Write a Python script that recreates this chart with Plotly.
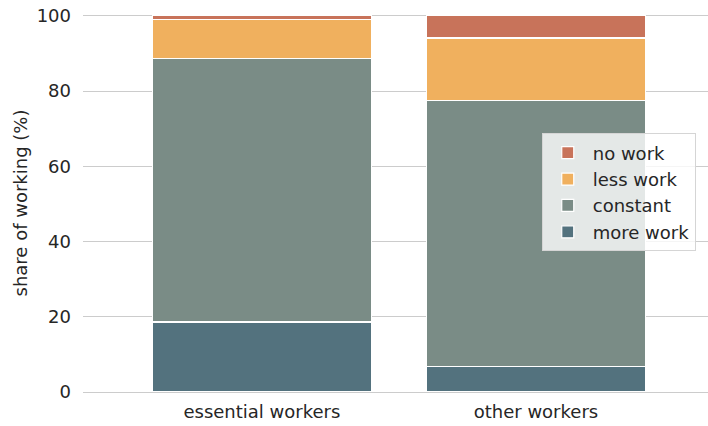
import plotly.graph_objects as go

categories = ["essential workers", "other workers"]
more_work = [18.6, 6.7]
constant = [70.0, 70.7]
less_work = [10.4, 16.7]
no_work = [1.0, 5.9]

series = [
    ("more work", more_work, "#53727e"),
    ("constant", constant, "#7a8c86"),
    ("less work", less_work, "#f0b05e"),
    ("no work", no_work, "#c8735a"),
]

fig = go.Figure()
for name, vals, color in series:
    fig.add_trace(go.Bar(
        x=categories, y=vals, name=name,
        marker=dict(color=color, line=dict(color="white", width=1.2)),
    ))

font_color = "#262626"
fig.update_layout(
    barmode="stack",
    bargap=0.2,
    width=708, height=426,
    margin=dict(l=83, r=0, t=14, b=34, pad=0, autoexpand=False),
    paper_bgcolor="white",
    plot_bgcolor="white",
    font=dict(family="DejaVu Sans", size=18, color=font_color),
    xaxis=dict(
        range=[-0.653, 1.628],
        showgrid=False, showline=False, ticks="",
        ticklabelstandoff=7,
        automargin=False,
        tickfont=dict(size=18, color=font_color),
    ),
    yaxis=dict(
        range=[0, 100.5],
        tickvals=[0, 20, 40, 60, 80, 100],
        showgrid=True, gridcolor="#cccccc", gridwidth=1.3,
        zeroline=True, zerolinecolor="#cccccc", zerolinewidth=1.3,
        showline=False, ticks="",
        ticklabelstandoff=11,
        ticklabeloverflow="allow",
        automargin=False,
        tickfont=dict(size=18, color=font_color),
        title=dict(text="share of working (%)", font=dict(size=18, color=font_color), standoff=4),
    ),
    legend=dict(
        x=0.734, y=0.684, xanchor="left", yanchor="top",
        traceorder="reversed",
        bgcolor="rgba(255,255,255,0.8)",
        bordercolor="#d5d5d5", borderwidth=1,
        font=dict(size=18, color=font_color),
        itemwidth=40,
        tracegroupgap=0,
    ),
)

fig.write_html("out.html", config={"displayModeBar": False},
               post_script="document.body.style.margin='0';")
